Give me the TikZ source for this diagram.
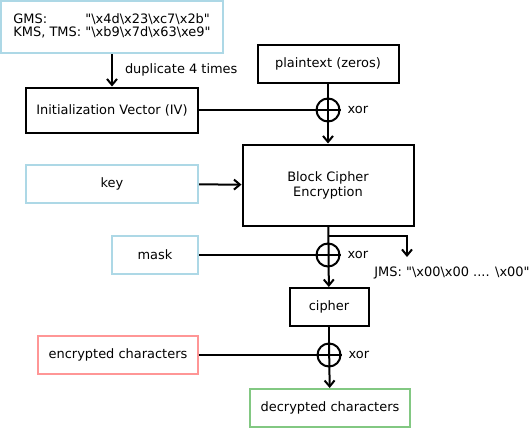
\documentclass[tikz,border=0pt]{standalone}
\usepackage{fontspec}
\setmainfont{DejaVu Sans}[Ligatures=TeXOff]
\usetikzlibrary{arrows.meta}

\definecolor{boxblue}{RGB}{173,216,230}
\definecolor{boxred}{RGB}{255,150,150}
\definecolor{boxgreen}{RGB}{130,200,130}

\tikzstyle{blk} = [style={draw, line width=2bp, inner sep=0pt, align=center}]
\tikzstyle{inp} = [style={draw=boxblue, line width=2bp, inner sep=0pt, align=center}]
\tikzstyle{xr} = [style={circle, draw, line width=2bp, minimum size=23bp, inner sep=0pt}]
\tikzstyle{lbl} = [style={inner sep=0pt, anchor=west}]
\tikzstyle{wire} = [style={line width=2bp}]
\tikzstyle{arr} = [style={line width=2bp, -{Straight Barb[length=6bp, width=10bp]}}]
\newcommand*{\bs}{\textbackslash}
\newcommand*{\qq}{\symbol{34}}

\begin{document}
\begin{tikzpicture}[x=1bp, y=-1bp, font=\fontsize{13}{15}\selectfont]
\useasboundingbox (0,0) rectangle (530,430);

%% boxes
\node [inp, minimum width=222bp, minimum height=52bp] (src) at (112,27)
  {\begin{tabular}{@{}l@{ }l@{}}GMS: & \qq\bs x4d\bs x23\bs xc7\bs x2b\qq\\[-2pt]
   KMS, TMS: & \qq\bs xb9\bs x7d\bs x63\bs xe9\qq\end{tabular}};
\node [blk, minimum width=172bp, minimum height=45bp] (iv) at (112,110) {Initialization Vector (IV)};
\node [blk, minimum width=141bp, minimum height=38bp] (pt) at (328,64) {plaintext (zeros)};
\node [blk, minimum width=171bp, minimum height=81bp] (bc) at (328,185) {Block Cipher\\Encryption};
\node [inp, minimum width=172bp, minimum height=38bp] (key) at (112,184) {key};
\node [inp, minimum width=86bp, minimum height=38bp] (mask) at (155,255) {mask};
\node [blk, minimum width=79bp, minimum height=38bp] (ciph) at (329,307) {cipher};
\node [blk, draw=boxred, minimum width=159bp, minimum height=38bp] (enc) at (118,355) {encrypted characters};
\node [blk, draw=boxgreen, minimum width=160bp, minimum height=38bp] (dec) at (330,408) {decrypted characters};

%% xor
\node [xr] (x1) at (328,110) {};
\node [xr] (x2) at (328,255) {};
\node [xr] (x3) at (329,355) {};
\node [lbl] at ([xshift=7bp]x1.east) {xor};
\node [lbl] at ([xshift=7bp]x2.east) {xor};
\node [lbl] at ([xshift=7bp]x3.east) {xor};

%% wires
\draw [arr] (src) -- node[lbl, xshift=12bp] {duplicate 4 times} (iv);
\draw [wire] (iv) -- (x1.east);
\draw [arr] (pt) -- (bc);
\draw [arr] (key) -- (bc);
\draw [wire] (mask) -- (x2.east);
\draw [arr] (bc) -- (ciph);
\draw [wire] (enc) -- (x3.east);
\draw [wire] (ciph) -- (x3.north);
\draw [arr] (x3.north) -- (dec);

%% JMS branch
\coordinate (br) at (328,236);
\coordinate (jms) at (407,257);
\draw [arr] (br) -| (jms);
\node (jmstxt) at (452,273) {JMS: \qq\bs x00\bs x00 .... \bs x00\qq};

\end{tikzpicture}
\end{document}
